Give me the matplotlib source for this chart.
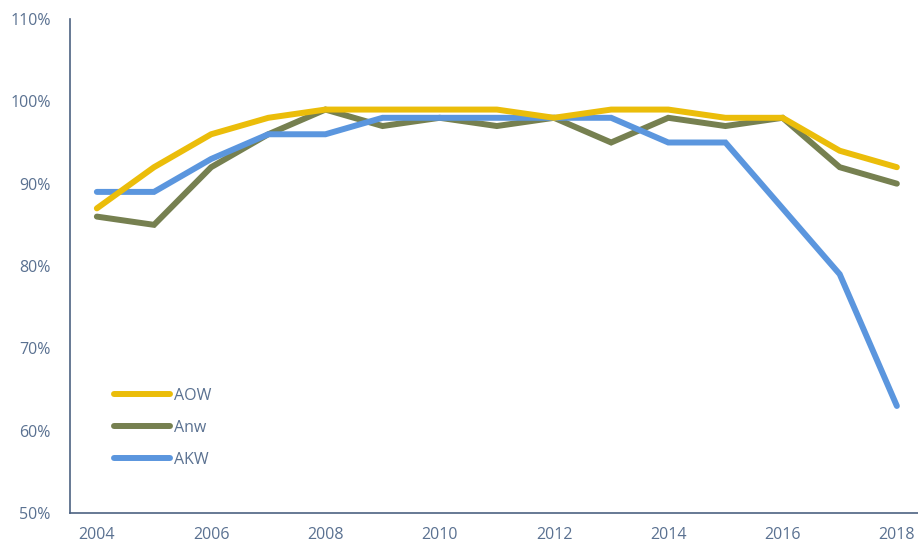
import matplotlib
matplotlib.use("Agg")
import matplotlib.pyplot as plt
from matplotlib.ticker import FuncFormatter

years = [2004, 2005, 2006, 2007, 2008, 2009, 2010, 2011, 2012, 2013, 2014, 2015, 2016, 2017, 2018]
aow = [87, 92, 96, 98, 99, 99, 99, 99, 98, 99, 99, 98, 98, 94, 92]
anw = [86, 85, 92, 96, 99, 97, 98, 97, 98, 95, 98, 97, 98, 92, 90]
akw = [89, 89, 93, 96, 96, 98, 98, 98, 98, 98, 95, 95, 87, 79, 63]
xticks = [2004, 2006, 2008, 2010, 2012, 2014, 2016, 2018]
yticks = [50, 60, 70, 80, 90, 100, 110]

plt.rcParams['font.family'] = ['Open Sans', 'DejaVu Sans']
txt = '#5a7191'
spine = '#4d6282'

fig = plt.figure(figsize=(9.18, 5.46), dpi=100)
ax = fig.add_axes([70/918, 33/546, 1 - 70/918, (513-19)/546])

lw = 4.3
l2, = ax.plot(years, anw, color='#768050', lw=lw, solid_capstyle='round', solid_joinstyle='miter', zorder=2, label='Anw')
l3, = ax.plot(years, akw, color='#5b96de', lw=lw, solid_capstyle='round', solid_joinstyle='miter', zorder=3, label='AKW')
l1, = ax.plot(years, aow, color='#ebbd0a', lw=lw, solid_capstyle='round', solid_joinstyle='miter', zorder=4, label='AOW')

ax.set_xlim(2003.53, 2018.37)
ax.set_ylim(50, 110)
ax.set_xticks(xticks)
ax.set_yticks(yticks)
ax.yaxis.set_major_formatter(FuncFormatter(lambda v, p: f"{int(v)}%"))
ax.tick_params(length=0, labelsize=11.5, colors=txt)
ax.tick_params(axis='x', pad=10)
ax.tick_params(axis='y', pad=14)
for s in ['top', 'right']:
    ax.spines[s].set_visible(False)
for s in ['left', 'bottom']:
    ax.spines[s].set_color(spine)
    ax.spines[s].set_linewidth(1.2)

leg = ax.legend(handles=[l1, l2, l3], loc='upper left', bbox_to_anchor=(0.035, 0.283),
                frameon=False, handlelength=3.5, handletextpad=0.25, labelspacing=1.0,
                fontsize=11.5)
for t in leg.get_texts():
    t.set_color(txt)

fig.savefig('out.png', dpi=100)
